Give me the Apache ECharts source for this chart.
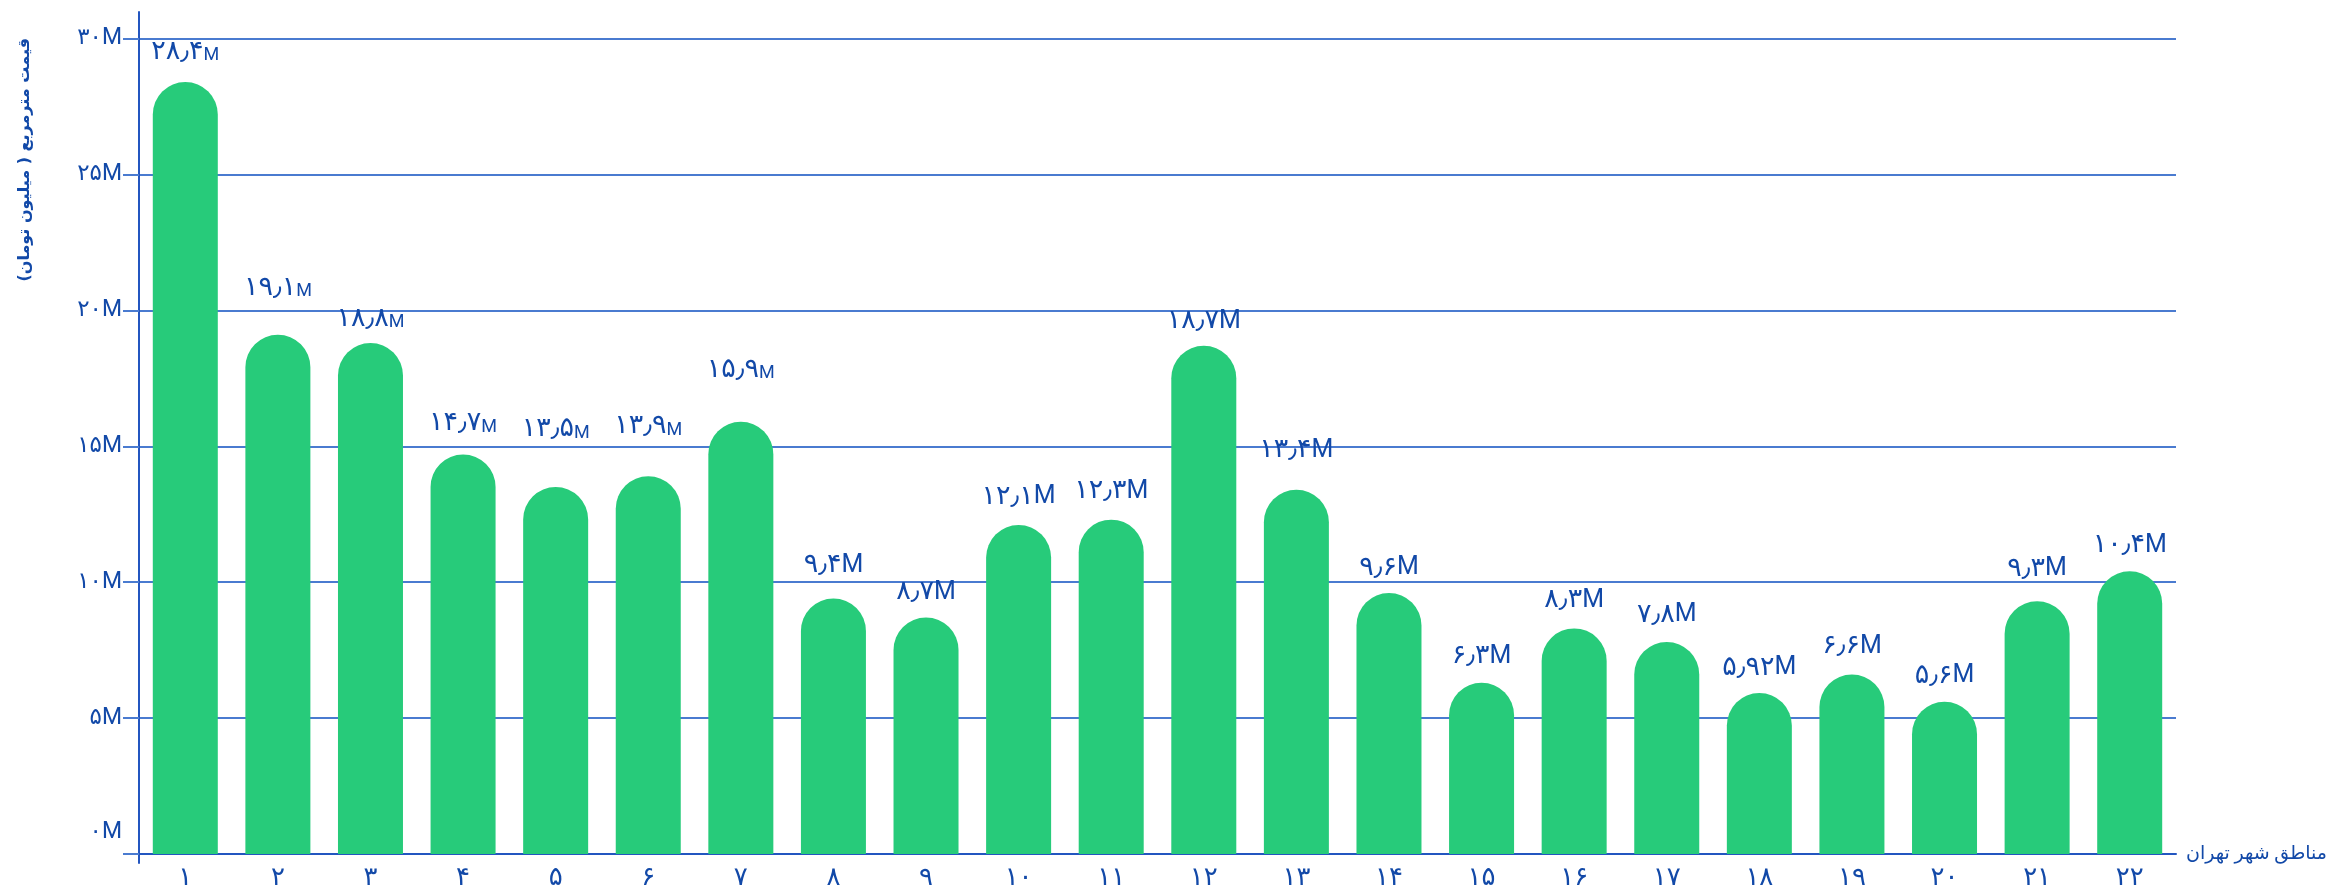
<!DOCTYPE html>
<html>
<head>
<meta charset="utf-8">
<script src="https://cdn.jsdelivr.net/npm/echarts@6/dist/echarts.min.js"></script>
<style>
  html, body { margin: 0; padding: 0; background: #fff; }
  #chart { width: 2331px; height: 891px; }
</style>
</head>
<body>
<div id="chart"></div>
<script>
// ---- data ----
const districts = [1, 2, 3, 4, 5, 6, 7, 8, 9, 10, 11, 12, 13, 14, 15, 16, 17, 18, 19, 20, 21, 22];
const pricePerMeter = [28.4, 19.1, 18.8, 14.7, 13.5, 13.9, 15.9, 9.4, 8.7, 12.1, 12.3, 18.7, 13.4, 9.6, 6.3, 8.3, 7.8, 5.92, 6.6, 5.6, 9.3, 10.4];
const yTicks = [0, 5, 10, 15, 20, 25, 30];
const xAxisTitle = 'مناطق شهر تهران';
const yAxisTitle = 'قیمت مترمربع ( میلیون تومان)';

// ---- layout / style ----
const labelLift = [30, 47, 24, 31, 58, 50, 52, 33, 25, 28, 28, 24, 39, 25, 26, 28, 27, 25, 28, 26, 32, 26];
const SMALL_M_UNTIL = 7;
const TEXT = '#1249A8';
const GRID = '#4A7BD0';
const AXIS = '#2356C0';
const BAR = '#27CB7A';
const FONT = 'Roboto, "DejaVu Sans", sans-serif';

const faDigits = '۰۱۲۳۴۵۶۷۸۹';
function toFa(v) {
  return String(v).replace(/[0-9]/g, d => faDigits[+d]).replace('.', '٫');
}

const chart = echarts.init(document.getElementById('chart'), null, { renderer: 'canvas' });

const barData = pricePerMeter.map((v, i) => ({
  value: v,
  label: { distance: labelLift[i] - 13 }
}));

const option = {
  backgroundColor: '#fff',
  animation: false,
  grid: [
    { left: 139, right: 155, top: 38.5, bottom: 37, containLabel: false, outerBoundsMode: 'none' },
    { left: 139, right: 155, top: 12, bottom: 28, containLabel: false, outerBoundsMode: 'none' }
  ],
  xAxis: [
    {
      type: 'category', gridIndex: 0,
      data: districts.map(d => toFa(d)),
      name: xAxisTitle,
      nameLocation: 'end',
      nameGap: 10,
      nameTextStyle: { color: TEXT, fontSize: 19, fontFamily: FONT, verticalAlign: 'middle', align: 'left' },
      axisLine: { show: true, lineStyle: { color: AXIS, width: 2 } },
      axisTick: { show: false },
      axisLabel: { color: TEXT, fontSize: 26, fontFamily: FONT, margin: 11 },
      splitLine: { show: false }
    },
    {
      type: 'category', gridIndex: 1, data: districts,
      show: false
    }
  ],
  yAxis: [
    {
      type: 'value', gridIndex: 0,
      min: yTicks[0], max: yTicks[yTicks.length - 1], interval: yTicks[1] - yTicks[0],
      axisLine: { show: false },
      axisTick: { show: true, length: 16, lineStyle: { color: GRID, width: 2 } },
      axisLabel: {
        color: TEXT, fontSize: 23, fontFamily: FONT, margin: 17,
        formatter: v => (v === 0 ? '{z|' + toFa(v) + 'M}' : toFa(v) + 'M'),
        rich: { z: { color: TEXT, fontSize: 23, fontFamily: FONT, padding: [0, 0, 44, 0] } }
      },
      splitLine: { show: true, lineStyle: { color: GRID, width: 2 } }
    },
    {
      type: 'value', gridIndex: 1, min: 0, max: 1,
      axisLine: { show: true, lineStyle: { color: AXIS, width: 2 } },
      axisTick: { show: false },
      axisLabel: { show: false },
      splitLine: { show: false }
    }
  ],
  graphic: [
    {
      type: 'text',
      left: 17, top: 38,
      rotation: Math.PI / 2,
      style: {
        text: yAxisTitle + '\u200F',
        fill: TEXT,
        font: 'bold 16px "DejaVu Sans", sans-serif',
        textAlign: 'center',
        textVerticalAlign: 'middle'
      }
    }
  ],
  series: [
    {
      type: 'bar',
      xAxisIndex: 0, yAxisIndex: 0,
      data: barData,
      barWidth: 65,
      itemStyle: { color: BAR, borderRadius: [33, 33, 0, 0] },
      label: {
        show: true,
        position: 'top',
        color: TEXT,
        fontFamily: FONT,
        formatter: p => p.dataIndex < SMALL_M_UNTIL
          ? '{n|' + toFa(p.value) + '}{s|M}'
          : '{n|' + toFa(p.value) + '}{b|M}',
        rich: {
          n: { color: TEXT, fontSize: 27, fontFamily: FONT, lineHeight: 26 },
          s: { color: TEXT, fontSize: 18, fontFamily: FONT, lineHeight: 26, verticalAlign: 'bottom' },
          b: { color: TEXT, fontSize: 25, fontFamily: FONT, lineHeight: 26 }
        }
      }
    }
  ]
};

chart.setOption(option);
</script>
</body>
</html>
